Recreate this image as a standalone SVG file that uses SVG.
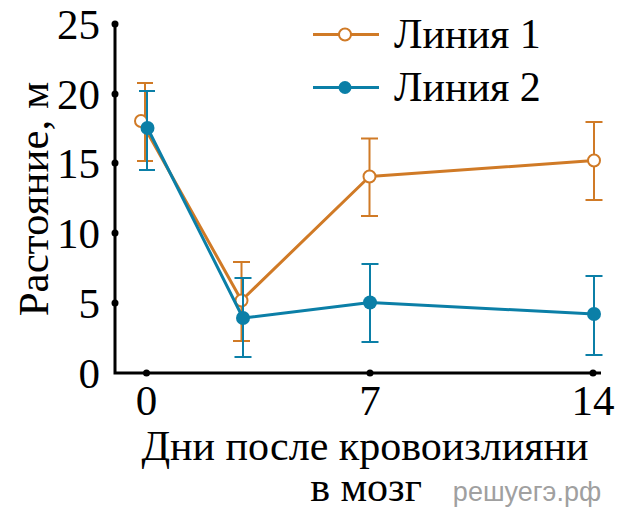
<svg xmlns="http://www.w3.org/2000/svg" width="621" height="518" viewBox="0 0 621 518">
<style>
.t{font-family:"Liberation Serif","Times New Roman",serif;fill:#000}
.tick{font-size:43px}
.axis{stroke:#000;stroke-width:3;fill:none}
.dot{fill:#000}
.l1{stroke:#D07A26;stroke-width:3;fill:none;stroke-linejoin:round}
.l2{stroke:#0B7FA7;stroke-width:3;fill:none;stroke-linejoin:round}
.e1{stroke:#D07A26;stroke-width:2;fill:none}
.e2{stroke:#0B7FA7;stroke-width:2;fill:none}
.m1{fill:#fff;stroke:#D07A26;stroke-width:2}
.m2{fill:#0B7FA7}
</style>
<rect width="621" height="518" fill="#fff"/>
<g id="axes">
<path class="axis" d="M115 24V373H601"/>
<circle class="dot" cx="115" cy="24" r="3.5"/>
<circle class="dot" cx="115" cy="94" r="3.5"/>
<circle class="dot" cx="115" cy="163" r="3.5"/>
<circle class="dot" cx="115" cy="233" r="3.5"/>
<circle class="dot" cx="115" cy="303" r="3.5"/>
<circle class="dot" cx="146.5" cy="373" r="3.5"/>
<circle class="dot" cx="370" cy="373" r="3.5"/>
<circle class="dot" cx="593" cy="373" r="3.5"/>
<g class="t tick" text-anchor="end">
<text x="100" y="39">25</text>
<text x="100" y="109">20</text>
<text x="100" y="178">15</text>
<text x="100" y="248">10</text>
<text x="100" y="318">5</text>
<text x="100" y="388">0</text>
</g>
<g class="t tick" text-anchor="middle">
<text x="146.5" y="415">0</text>
<text x="370" y="415">7</text>
<text x="593" y="415">14</text>
</g>
<text class="t" font-size="43" text-anchor="middle" transform="translate(48,199) rotate(-90)">Растояние, м</text>
<text class="t" font-size="42" text-anchor="middle" x="365" y="460">Дни после кровоизлияни</text>
<text class="t" font-size="42" text-anchor="middle" x="366" y="501">в мозг</text>
<text x="527" y="501" font-family="'Liberation Sans',Arial,sans-serif" font-size="27" fill="#a0a0a0" text-anchor="middle">решуегэ.рф</text>
</g>
<g id="series1">
<path class="e1" d="M145 83V161M137 83H153M137 161H153"/>
<path class="e1" d="M241.5 262V341M233 262H250M233 341H250"/>
<path class="e1" d="M369.5 138.5V216M361 138.5H378M361 216H378"/>
<path class="e1" d="M594 122V200M585.5 122H602.5M585.5 200H602.5"/>
<path class="l1" d="M141 121L241.5 300.5L369.5 176.5L594 160.5"/>
<circle class="m1" cx="141" cy="121" r="6"/>
<circle class="m1" cx="241.5" cy="300.5" r="6"/>
<circle class="m1" cx="369.5" cy="176.5" r="6"/>
<circle class="m1" cx="594" cy="160.5" r="6"/>
</g>
<g id="series2">
<path class="e2" d="M147 91V170M139 91H155M139 170H155"/>
<path class="e2" d="M243 278V357M234.5 278H251.5M234.5 357H251.5"/>
<path class="e2" d="M370 264V342M361.5 264H378.5M361.5 342H378.5"/>
<path class="e2" d="M594 276V355M585.5 276H602.5M585.5 355H602.5"/>
<path class="l2" d="M147.5 128L243 318L370 302.5L594 314"/>
<circle class="m2" cx="147.5" cy="128" r="7"/>
<circle class="m2" cx="243" cy="318" r="7"/>
<circle class="m2" cx="370" cy="302.5" r="7"/>
<circle class="m2" cx="594" cy="314" r="7"/>
</g>
<g id="legend">
<path class="l1" d="M313 34.5H379"/>
<circle class="m1" cx="345" cy="34.5" r="6"/>
<text class="t" font-size="42" x="394" y="48">Линия 1</text>
<path class="l2" d="M313 87.5H379"/>
<circle class="m2" cx="345" cy="87.5" r="6.5"/>
<text class="t" font-size="42" x="394" y="101">Линия 2</text>
</g>
</svg>
